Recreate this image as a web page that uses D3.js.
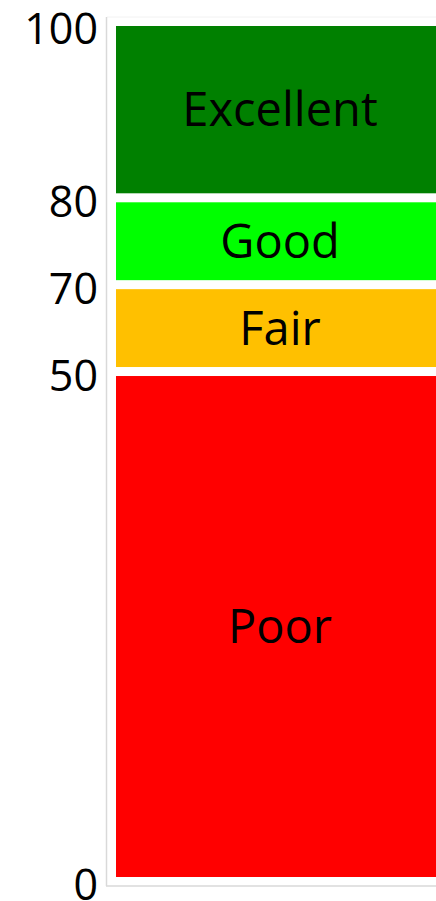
<!DOCTYPE html>
<html>
<head>
<meta charset="utf-8">
<script src="https://cdn.jsdelivr.net/npm/d3@7"></script>
<style>
  html, body { margin: 0; padding: 0; background: #fff; overflow: hidden; }
  svg { display: block; }
  .band text { font-family: "Open Sans", sans-serif; font-size: 47px; fill: #000; }
  .tick text { font-family: "Open Sans", sans-serif; font-size: 43px; fill: #000; }
</style>
</head>
<body>
<svg id="chart" width="436" height="901"></svg>
<script>
// rating bands, stacked from the bottom
var bandNames = ['Poor', 'Fair', 'Good', 'Excellent'];
var bandValues = [59.3, 10.1, 10.1, 20.5];
var bandColors = ['#FF0000', '#FFC000', '#00FF00', '#008000'];

// axis ticks sit on the band boundaries, with their own labels
var tickLabels = ['0', '50', '70', '80', '100'];

var width = 436, height = 901;
var margin = {top: 21.5, bottom: 19.5, left: 107};
var gap = 4.5;

var svg = d3.select('#chart');

var y = d3.scaleLinear()
  .domain([0, 100])
  .range([height - margin.bottom, margin.top]);

var bands = [], acc = 0;
bandValues.forEach(function(v, i) {
  bands.push({name: bandNames[i], color: bandColors[i], lo: acc, hi: acc + v});
  acc += v;
});

var tickValues = [0].concat(bands.map(function(b) { return b.hi; }));

// plot frame
svg.append('line')
  .attr('x1', margin.left).attr('x2', width)
  .attr('y1', y(100) - 4.5).attr('y2', y(100) - 4.5)
  .attr('stroke', '#f2f2f2').attr('stroke-width', 1);

svg.append('line')
  .attr('x1', margin.left - 0.5).attr('x2', margin.left - 0.5)
  .attr('y1', y(100) - 4.5).attr('y2', y(0) + 4.5)
  .attr('stroke', '#d9d9d9').attr('stroke-width', 1.5);

svg.append('line')
  .attr('x1', margin.left - 1).attr('x2', width)
  .attr('y1', y(0) + 4.5).attr('y2', y(0) + 4.5)
  .attr('stroke', '#d9d9d9').attr('stroke-width', 1.5);

var g = svg.selectAll('.band')
  .data(bands)
  .enter().append('g')
  .attr('class', 'band');

g.append('rect')
  .attr('x', margin.left + 9)
  .attr('width', width - margin.left - 9)
  .attr('y', function(d) { return y(d.hi) + gap; })
  .attr('height', function(d) { return y(d.lo) - y(d.hi) - 2 * gap; })
  .attr('fill', function(d) { return d.color; });

g.append('text')
  .attr('x', (margin.left + 9 + width) / 2 + 4)
  .attr('y', function(d) { return (y(d.lo) + y(d.hi)) / 2; })
  .attr('dy', '0.35em')
  .attr('text-anchor', 'middle')
  .text(function(d) { return d.name; });

var yAxis = d3.axisLeft(y)
  .tickValues(tickValues)
  .tickFormat(function(d, i) { return tickLabels[i]; })
  .tickSize(0)
  .tickPadding(0);

var ax = svg.append('g')
  .attr('transform', 'translate(98,0)')
  .call(yAxis);

ax.select('.domain').remove();
ax.selectAll('.tick text')
  .attr('x', 0)
  .attr('dy', null)
  .attr('y', function(d) {
    return Math.max(Math.min(2.5, height - 18 - y(d)), 27 - y(d));
  })
  .attr('dominant-baseline', 'central')
  .attr('text-anchor', 'end');
</script>
</body>
</html>
